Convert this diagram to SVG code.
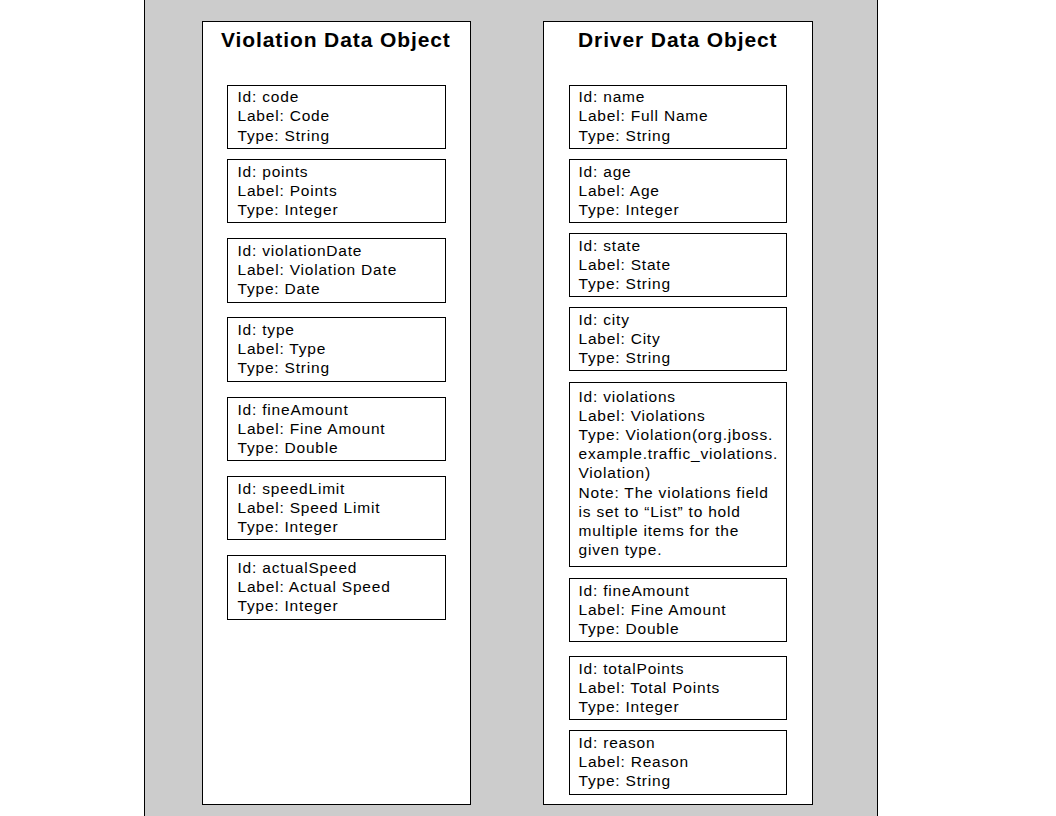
<svg xmlns="http://www.w3.org/2000/svg" width="1056" height="816" viewBox="0 0 1056 816">
<style>
.bg{fill:#cccccc;stroke:#000;stroke-width:1}
.cont{fill:#fff;stroke:#000;stroke-width:1}
.box{fill:#fff;stroke:#000;stroke-width:1}
.title{font-family:"Liberation Sans",Arial,sans-serif;font-weight:bold;font-size:21px;letter-spacing:0.9px;fill:#000}
.t{font-family:"Liberation Sans",Arial,sans-serif;font-size:15.5px;letter-spacing:0.8px;fill:#000}
</style>
<rect width="1056" height="816" fill="#fff"/>
<rect class="bg" x="144.5" y="-2" width="733" height="820"/>
<g id="violation-object">
<rect class="cont" x="202.5" y="21.5" width="268" height="783"/>
<text class="title" x="221" y="47">Violation Data Object</text>
</g>
<g id="driver-object">
<rect class="cont" x="543.5" y="21.5" width="269" height="783"/>
<text class="title" x="578" y="47">Driver Data Object</text>
</g>
<g id="v-code"><rect class="box" x="227.5" y="85.5" width="218" height="63"/>
<text class="t" x="237.5"><tspan x="237.5" y="102">Id: code</tspan><tspan x="237.5" y="121.3">Label: Code</tspan><tspan x="237.5" y="140.5">Type: String</tspan></text></g>
<g id="v-points"><rect class="box" x="227.5" y="159.5" width="218" height="63"/>
<text class="t"><tspan x="237.5" y="176.5">Id: points</tspan><tspan x="237.5" y="195.7">Label: Points</tspan><tspan x="237.5" y="214.9">Type: Integer</tspan></text></g>
<g id="v-violationDate"><rect class="box" x="227.5" y="238.5" width="218" height="64"/>
<text class="t"><tspan x="237.5" y="256">Id: violationDate</tspan><tspan x="237.5" y="275.2">Label: Violation Date</tspan><tspan x="237.5" y="294.4">Type: Date</tspan></text></g>
<g id="v-type"><rect class="box" x="227.5" y="317.5" width="218" height="64"/>
<text class="t"><tspan x="237.5" y="335">Id: type</tspan><tspan x="237.5" y="354.2">Label: Type</tspan><tspan x="237.5" y="373.4">Type: String</tspan></text></g>
<g id="v-fineAmount"><rect class="box" x="227.5" y="397.5" width="218" height="63"/>
<text class="t"><tspan x="237.5" y="414.5">Id: fineAmount</tspan><tspan x="237.5" y="433.7">Label: Fine Amount</tspan><tspan x="237.5" y="452.9">Type: Double</tspan></text></g>
<g id="v-speedLimit"><rect class="box" x="227.5" y="476.5" width="218" height="63"/>
<text class="t"><tspan x="237.5" y="493.5">Id: speedLimit</tspan><tspan x="237.5" y="512.7">Label: Speed Limit</tspan><tspan x="237.5" y="531.9">Type: Integer</tspan></text></g>
<g id="v-actualSpeed"><rect class="box" x="227.5" y="555.5" width="218" height="64"/>
<text class="t"><tspan x="237.5" y="572.7">Id: actualSpeed</tspan><tspan x="237.5" y="591.9">Label: Actual Speed</tspan><tspan x="237.5" y="611.1">Type: Integer</tspan></text></g>
<g id="d-name"><rect class="box" x="569.5" y="85.5" width="217" height="63"/>
<text class="t"><tspan x="578.5" y="102">Id: name</tspan><tspan x="578.5" y="121.3">Label: Full Name</tspan><tspan x="578.5" y="140.5">Type: String</tspan></text></g>
<g id="d-age"><rect class="box" x="569.5" y="159.5" width="217" height="63"/>
<text class="t"><tspan x="578.5" y="176.5">Id: age</tspan><tspan x="578.5" y="195.7">Label: Age</tspan><tspan x="578.5" y="214.9">Type: Integer</tspan></text></g>
<g id="d-state"><rect class="box" x="569.5" y="233.5" width="217" height="63"/>
<text class="t"><tspan x="578.5" y="250.5">Id: state</tspan><tspan x="578.5" y="269.7">Label: State</tspan><tspan x="578.5" y="288.9">Type: String</tspan></text></g>
<g id="d-city"><rect class="box" x="569.5" y="307.5" width="217" height="63"/>
<text class="t"><tspan x="578.5" y="324.5">Id: city</tspan><tspan x="578.5" y="343.7">Label: City</tspan><tspan x="578.5" y="362.9">Type: String</tspan></text></g>
<g id="d-violations"><rect class="box" x="569.5" y="382.5" width="217" height="184"/>
<text class="t"><tspan x="578.5" y="401.5">Id: violations</tspan><tspan x="578.5" y="420.7">Label: Violations</tspan><tspan x="578.5" y="439.9">Type: Violation(org.jboss.</tspan><tspan x="578.5" y="459.1">example.traffic_violations.</tspan><tspan x="578.5" y="478.3">Violation)</tspan><tspan x="578.5" y="497.5">Note: The violations field</tspan><tspan x="578.5" y="516.7">is set to “List” to hold</tspan><tspan x="578.5" y="535.9">multiple items for the</tspan><tspan x="578.5" y="555.1">given type.</tspan></text></g>
<g id="d-fineAmount"><rect class="box" x="569.5" y="578.5" width="217" height="63"/>
<text class="t"><tspan x="578.5" y="595.5">Id: fineAmount</tspan><tspan x="578.5" y="614.7">Label: Fine Amount</tspan><tspan x="578.5" y="633.9">Type: Double</tspan></text></g>
<g id="d-totalPoints"><rect class="box" x="569.5" y="656.5" width="217" height="63"/>
<text class="t"><tspan x="578.5" y="673.5">Id: totalPoints</tspan><tspan x="578.5" y="692.7">Label: Total Points</tspan><tspan x="578.5" y="711.9">Type: Integer</tspan></text></g>
<g id="d-reason"><rect class="box" x="569.5" y="730.5" width="217" height="64"/>
<text class="t"><tspan x="578.5" y="748">Id: reason</tspan><tspan x="578.5" y="767.2">Label: Reason</tspan><tspan x="578.5" y="786.4">Type: String</tspan></text></g>
<g id="connectors"></g>
</svg>
